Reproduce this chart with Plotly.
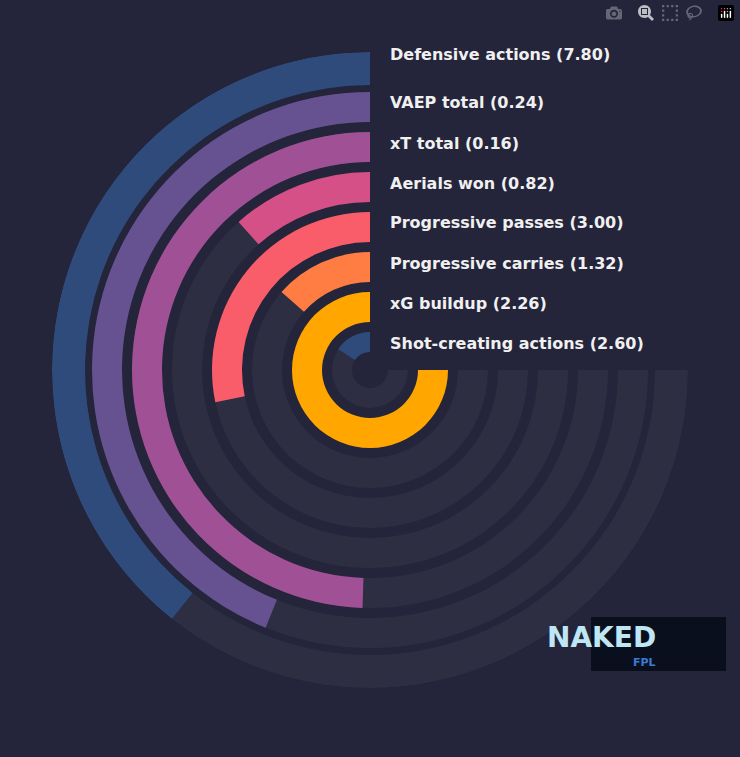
import plotly.graph_objects as go

labels = ["Defensive actions (7.80)", "VAEP total (0.24)", "xT total (0.16)", "Aerials won (0.82)",
          "Progressive passes (3.00)", "Progressive carries (1.32)", "xG buildup (2.26)",
          "Shot-creating actions (2.60)"]
percentiles = [52.4, 58.5, 66.0, 15.4, 37.7, 18.0, 100.0, 21.0]
colors = ["#2f4b7c", "#665191", "#a05195", "#d45087", "#f95d6a", "#ff7c43", "#ffa600", "#2f4b7c"]
outer = [318, 278, 238, 198, 158, 118, 78, 38]
thick = [33, 30, 30, 30, 30, 30, 30, 20]
label_y = [55, 103, 143, 183, 223, 263, 303, 343]

SPAN = 270
fig = go.Figure()
for o, t in zip(outer, thick):
    fig.add_trace(go.Barpolar(r=[t], base=[o - t], theta=[SPAN / 2], width=[SPAN],
                              marker_color="#2e2e43", marker_line_width=0, hoverinfo="skip"))
for p, c, o, t in zip(percentiles, colors, outer, thick):
    w = p / 100 * SPAN
    fig.add_trace(go.Barpolar(r=[t], base=[o - t], theta=[w / 2], width=[w],
                              marker_color=c, marker_line_width=0))

W, H = 740, 757
fig.update_layout(
    width=W, height=H, margin=dict(l=0, r=0, t=0, b=0), showlegend=False,
    paper_bgcolor="#24243a", plot_bgcolor="#24243a",
    polar=dict(bgcolor="#24243a",
               domain=dict(x=[52 / W, 688 / W], y=[(H - 688) / H, (H - 52) / H]),
               angularaxis=dict(direction="counterclockwise", rotation=90, visible=False),
               radialaxis=dict(range=[0, 318], visible=False)),
)
for lab, y in zip(labels, label_y):
    fig.add_annotation(x=388 / W, y=1 - y / H, xref="paper", yref="paper", text="<b>" + lab + "</b>",
                       showarrow=False, xanchor="left", yanchor="middle",
                       font=dict(family="DejaVu Sans", size=16, color="#f0f0f0"))
# logo
fig.add_shape(type="rect", xref="paper", yref="paper", x0=591 / W, x1=726 / W,
              y0=1 - 671 / H, y1=1 - 617 / H, fillcolor="#0a0f1e", line_width=0)
fig.add_annotation(x=658 / W, y=1 - 637 / H, xref="paper", yref="paper", text="<b>NAKED</b>",
                   showarrow=False, yanchor="middle",
                   font=dict(family="DejaVu Sans", size=28, color="#bfe6f5"))
fig.add_annotation(x=658 / W, y=1 - 662 / H, xref="paper", yref="paper", text="<b>FPL</b>",
                   showarrow=False, yanchor="middle",
                   font=dict(family="DejaVu Sans", size=11, color="#3a7bd5"))
fig.write_html("out.html")

with open("out.html", encoding="utf-8") as f:
    html = f.read()
html = html.replace("<head>", "<head><style>html,body{margin:0;padding:0;overflow:hidden;background:#24243a;}</style>", 1)
with open("out.html", "w", encoding="utf-8") as f:
    f.write(html)
